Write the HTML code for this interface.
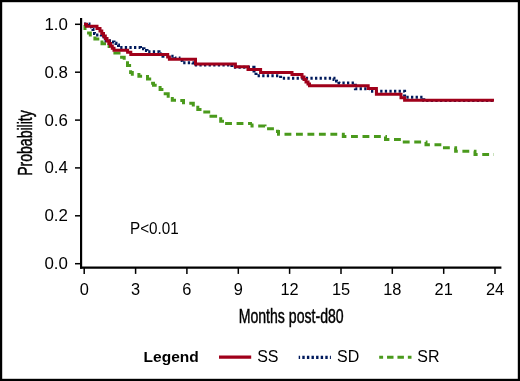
<!DOCTYPE html>
<html><head><meta charset="utf-8"><style>
html,body{margin:0;padding:0;background:#fff;}
body{width:520px;height:381px;overflow:hidden;}
svg{display:block;will-change:transform;}
text{font-family:"Liberation Sans",sans-serif;fill:#000;}
</style></head><body>
<svg width="520" height="381" viewBox="0 0 520 381">
<rect x="0" y="0" width="520" height="381" fill="#fff"/>
<rect x="1.1" y="1.1" width="517.8" height="378.8" fill="none" stroke="#000" stroke-width="2.2"/>
<!-- axes -->
<g stroke="#000" fill="none">
<line x1="81.1" y1="18" x2="81.1" y2="268.7" stroke-width="2.15"/>
<line x1="80" y1="267.55" x2="501.4" y2="267.55" stroke-width="2.2"/>
<g stroke-width="1.5">
<line x1="75" y1="24.3" x2="80.5" y2="24.3"/>
<line x1="75" y1="72.2" x2="80.5" y2="72.2"/>
<line x1="75" y1="120.1" x2="80.5" y2="120.1"/>
<line x1="75" y1="167.9" x2="80.5" y2="167.9"/>
<line x1="75" y1="215.8" x2="80.5" y2="215.8"/>
<line x1="75" y1="263.7" x2="80.5" y2="263.7"/>
</g>
<g stroke-width="1.5">
<line x1="84.2" y1="268" x2="84.2" y2="273.9"/>
<line x1="135.6" y1="268" x2="135.6" y2="273.9"/>
<line x1="186.9" y1="268" x2="186.9" y2="273.9"/>
<line x1="238.3" y1="268" x2="238.3" y2="273.9"/>
<line x1="289.6" y1="268" x2="289.6" y2="273.9"/>
<line x1="341" y1="268" x2="341" y2="273.9"/>
<line x1="392.3" y1="268" x2="392.3" y2="273.9"/>
<line x1="443.7" y1="268" x2="443.7" y2="273.9"/>
<line x1="495" y1="268" x2="495" y2="273.9"/>
</g>
</g>
<!-- y tick labels -->
<g font-size="16.4" text-anchor="end">
<text transform="translate(67.9,29.7) scale(1.03,1.025)">1.0</text>
<text transform="translate(67.9,77.6) scale(1.03,1.025)">0.8</text>
<text transform="translate(67.9,125.5) scale(1.03,1.025)">0.6</text>
<text transform="translate(67.9,173.3) scale(1.03,1.025)">0.4</text>
<text transform="translate(67.9,221.2) scale(1.03,1.025)">0.2</text>
<text transform="translate(67.9,269.1) scale(1.03,1.025)">0.0</text>
</g>
<!-- x tick labels -->
<g font-size="16.4" text-anchor="middle">
<text transform="translate(84.2,295) scale(1,1.025)">0</text>
<text transform="translate(135.6,295) scale(1,1.025)">3</text>
<text transform="translate(186.9,295) scale(1,1.025)">6</text>
<text transform="translate(238.3,295) scale(1,1.025)">9</text>
<text transform="translate(289.6,295) scale(1,1.025)">12</text>
<text transform="translate(341,295) scale(1,1.025)">15</text>
<text transform="translate(392.3,295) scale(1,1.025)">18</text>
<text transform="translate(443.7,295) scale(1,1.025)">21</text>
<text transform="translate(495,295) scale(1,1.025)">24</text>
</g>
<!-- axis titles -->
<text x="238.7" y="322.9" font-size="19.5" stroke="#000" stroke-width="0.45" textLength="105" lengthAdjust="spacingAndGlyphs">Months post-d80</text>
<text transform="translate(31.9,175.8) rotate(-90)" x="0" y="0" font-size="19.5" stroke="#000" stroke-width="0.45" textLength="65.5" lengthAdjust="spacingAndGlyphs">Probability</text>
<text transform="translate(130,233.8) scale(1,1.03)" font-size="15.6" textLength="48.8" lengthAdjust="spacingAndGlyphs">P&lt;0.01</text>
<!-- curves -->
<g fill="none" stroke-width="3" stroke-linejoin="miter" stroke-linecap="butt">
<g stroke="#4a9a1c">
<path d="M85,25 V29.9 M87.1,32.9 H90.3 V36.6 M94.9,36.6 V39 H99.3 M102,40.5 V43.7 H106 M109.1,44.5 V48 M113.4,52.9 H120.5 M120.1,57.2 H124.2 V59.7 M127.5,61.2 V65.6 H131.1 M130.6,70.2 V72.5 H132.3 V75.7 M138.9,73 V76.2 H142.1 M147.5,75 V79 H151.2 M151.1,83.2 H153.5 V85.3 H156.7 M160.1,86 V89.6 H163.4 M163.7,93.8 H168.2 V97.8 M172.3,97 V100.3 H176 M180.3,100.6 H183.5 V104.2 M189.3,103.3 H193.3 V106.6 M197.8,105.8 V109.5 H201.5 M203.3,111.9 H210.2 M209.5,116.3 H217.1 M220.7,117.2 V121.3 H224"/>
<path stroke-dasharray="6.85 4.62" stroke-dashoffset="10.37" d="M224,123.5 H252"/>
<path stroke-dasharray="6.85 4.62" stroke-dashoffset="2.67" d="M252,123.5 V126.1 H265 V128.7 H277.5 V131.5 H278.5 V134.2 H343.3 V136.5 H385.5 V139.4 H402 V142.1 H426 V144.8 H442 V147.8 H455.6 V151.3 H475 V154.4 H494"/>
</g>
<path stroke="#001a5c" stroke-dasharray="2.3 2.3" d="M84,24 H89 V27 H91.5 V29 H93 V31.5 H94.5 V33.5 H96 V34.9 H101.3 V36.7 H104 V38.5 H106 V40.7 H112 V42 H114 V43.3 H116 V45 H118.5 V47.6 H140.5 V48.8 H144 V50.5 H147 V51.8 H159 V54 H163 V56.3 H175 V58 H179 V60.4 H182 V62.8 H193 V65 H231.9 V67.3 H254 V72.5 H256 V75.8 H280.6 V78.2 H334 V79.5 H336.5 V81 H339 V83 H355.4 V88.8 H370 V91.2 H404.6 V97.2 H423.8 V100.45 H495"/>
<path stroke="#a0001a" d="M84,24.3 H86.5 V26.3 H97 V28.6 H100 V31 H101.8 V33.5 H103.5 V36 H105.3 V38.5 H107 V41 H108.8 V43.5 H110.5 V46 H112.3 V48.2 H114 V50.2 H127.6 V52.3 H130.8 V54.4 H167.7 V56.9 H169.4 V59.3 H195.5 V64 H235.4 V66.8 H248 V69.4 H260.6 V72.4 H292 V74.6 H302 V77 H304 V79.5 H306 V82 H308 V84 H309.5 V85.7 H368.2 V88.5 H376.4 V94.2 H401 V97.7 H404.6 V100.3 H494"/>
</g>
<!-- legend -->
<text x="143.6" y="361.5" font-size="15.5" font-weight="bold">Legend</text>
<line x1="219" y1="357.2" x2="251.2" y2="357.2" stroke="#a0001a" stroke-width="3.2"/>
<text transform="translate(257.2,361.8) scale(1,1.04)" font-size="16">SS</text>
<line x1="298.7" y1="357.45" x2="330.9" y2="357.45" stroke="#001a5c" stroke-width="3.3" stroke-dasharray="2.4 2.2" stroke-dashoffset="1"/>
<text transform="translate(337,361.8) scale(1,1.04)" font-size="16">SD</text>
<line x1="379.2" y1="357.3" x2="411.5" y2="357.3" stroke="#4a9a1c" stroke-width="3" stroke-dasharray="6.45 3.95" stroke-dashoffset="2.55"/>
<text transform="translate(417.3,361.8) scale(1,1.04)" font-size="16">SR</text>
</svg>
</body></html>
